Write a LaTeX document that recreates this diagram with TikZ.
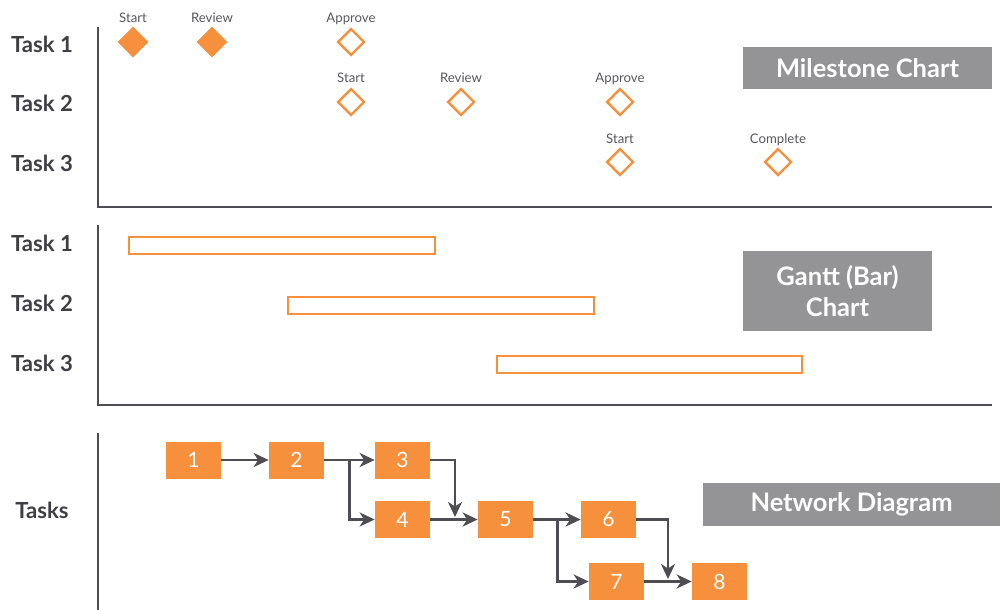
\documentclass[tikz,border=0pt]{standalone}
\usepackage{xcolor}
\usepackage{fontspec}
\setmainfont{Lato}
\usetikzlibrary{shapes.geometric,arrows.meta}
\definecolor{OR}{HTML}{F6903D}
\definecolor{GB}{HTML}{949496}
\definecolor{AX}{HTML}{4D4D53}
\definecolor{TX}{HTML}{3E3E45}
\definecolor{LB}{HTML}{58585D}
\tikzset{%
  axis/.style={draw=AX, line width=1.4pt},%
  tasklbl/.style={font=\fontsize{12.6}{15}\selectfont\bfseries, text=TX, anchor=base, inner sep=0pt},%
  mslbl/.style={font=\fontsize{7.5}{9}\selectfont, text=LB, anchor=base, inner sep=0pt},%
  msdone/.style={diamond, aspect=1, fill=OR, minimum size=6.2mm, inner sep=0pt},%
  msopen/.style={diamond, aspect=1, draw=OR, line width=1.4pt, minimum size=5.4mm, inner sep=0pt},%
  bar/.style={draw=OR, line width=1.4pt, minimum width=61.1mm, minimum height=3.3mm, inner sep=0pt},%
  title/.style={fill=GB, text=white, font=\fontsize{14.5}{18}\selectfont\bfseries, align=center, inner sep=0pt},%
  tbox/.style={fill=OR, text=white, minimum width=11mm, minimum height=7.4mm, font=\fontsize{12}{14}\selectfont, inner sep=0pt},%
  flow/.style={draw=AX, line width=1.4pt, -{Stealth[length=3mm, width=2.8mm, inset=0.9mm]}},%
}
\begin{document}
\begin{tikzpicture}[x=0.2mm, y=-0.2mm]%
\useasboundingbox (0,0) rectangle (1000,610);%
% milestone chart
\draw[axis] (98,27) |- (992,207);%
\node[tasklbl] (m-t1) at (42,53) {Task 1};%
\node[tasklbl] (m-t2) at (42,112) {Task 2};%
\node[tasklbl] (m-t3) at (42,172) {Task 3};%
\node[msdone] (m1-start) at (133,42) {};%
\node[mslbl] (m1-start-l) at (133,23) {Start};%
\node[msdone] (m1-review) at (212,42) {};%
\node[mslbl] (m1-review-l) at (212,23) {Review};%
\node[msopen] (m1-approve) at (351,42) {};%
\node[mslbl] (m1-approve-l) at (351,23) {Approve};%
\node[msopen] (m2-start) at (351,102) {};%
\node[mslbl] (m2-start-l) at (351,83) {Start};%
\node[msopen] (m2-review) at (461,102) {};%
\node[mslbl] (m2-review-l) at (461,83) {Review};%
\node[msopen] (m2-approve) at (620,102) {};%
\node[mslbl] (m2-approve-l) at (620,83) {Approve};%
\node[msopen] (m3-start) at (620,162) {};%
\node[mslbl] (m3-start-l) at (620,143) {Start};%
\node[msopen] (m3-complete) at (778,162) {};%
\node[mslbl] (m3-complete-l) at (778,143) {Complete};%
\node[title, minimum width=49.8mm, minimum height=8.4mm] (m-title) at (867.5,68) {Milestone Chart};%
% gantt chart
\draw[axis] (98,225) |- (992,405);%
\node[tasklbl] (g-t1) at (42,251) {Task 1};%
\node[tasklbl] (g-t2) at (42,311) {Task 2};%
\node[tasklbl] (g-t3) at (42,371) {Task 3};%
\node[bar] (g-bar1) at (282,245.5) {};%
\node[bar] (g-bar2) at (441,305.5) {};%
\node[bar] (g-bar3) at (649.5,364.5) {};%
\node[title, minimum width=37.8mm, minimum height=16mm] (g-title) at (837.5,291) {Gantt (Bar)\\Chart};%
% network diagram
\draw[axis] (98,433) -- (98,610);%
\node[tasklbl] (n-tasks) at (42,518) {Tasks};%
\node[tbox] (n1) at (193.5,460) {1};%
\node[tbox] (n2) at (296.5,460) {2};%
\node[tbox] (n3) at (402.5,460) {3};%
\node[tbox] (n4) at (402.5,519.5) {4};%
\node[tbox] (n5) at (505.5,519.5) {5};%
\node[tbox] (n6) at (608.5,519.5) {6};%
\node[tbox] (n7) at (616.5,581.5) {7};%
\node[tbox] (n8) at (719.5,581.5) {8};%
\coordinate (j5) at (455,517);%
\coordinate (j8) at (668,579);%
\draw[flow] (n1) -- (n2);%
\draw[flow] (n2.east) -- (n3.west);%
\draw[flow] (n2.east) -- ++(25,0) |- (n4.west);%
\draw[flow] (n3.east) -| (j5);%
\draw[flow] (n4) -- (n5);%
\draw[flow] (n5.east) -- (n6.west);%
\draw[flow] (n5.east) -- ++(24,0) |- (n7.west);%
\draw[flow] (n6.east) -| (j8);%
\draw[flow] (n7) -- (n8);%
\node[title, minimum width=59.4mm, minimum height=8.6mm] (n-title) at (851.5,504.5) {Network Diagram};%
\end{tikzpicture}
\end{document}
